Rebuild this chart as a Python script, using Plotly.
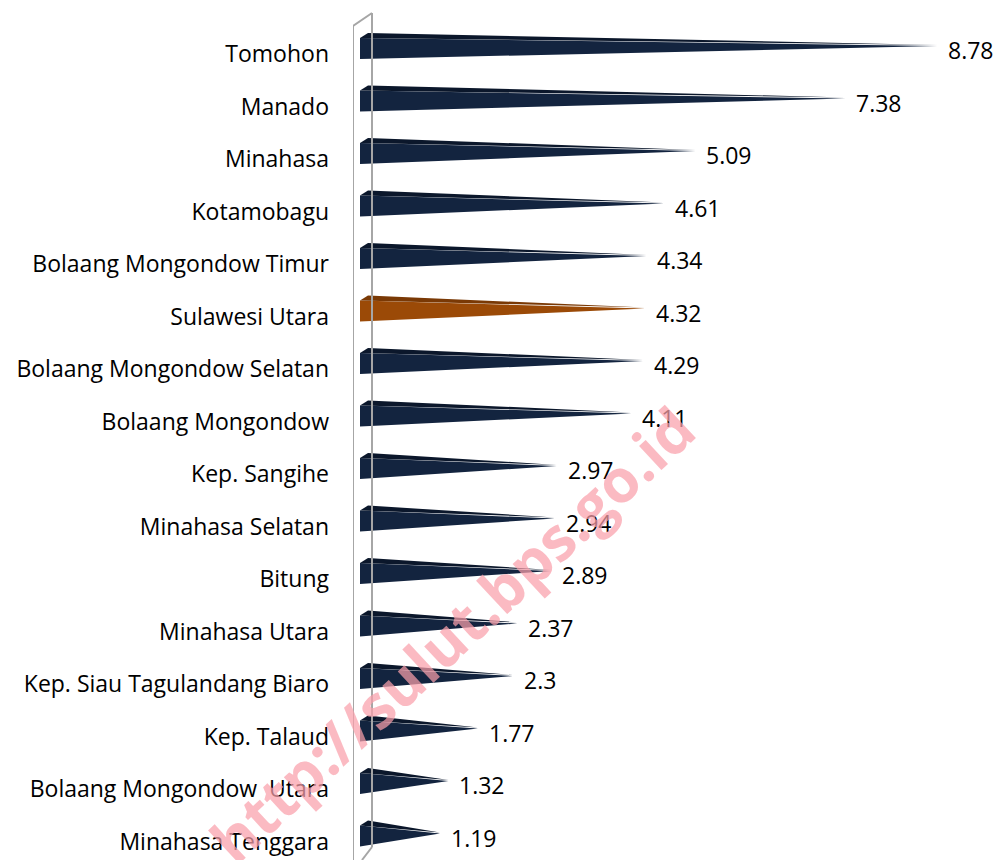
import plotly.graph_objects as go

categories = ["Tomohon", "Manado", "Minahasa", "Kotamobagu", "Bolaang Mongondow Timur",
              "Sulawesi Utara", "Bolaang Mongondow Selatan", "Bolaang Mongondow",
              "Kep. Sangihe", "Minahasa Selatan", "Bitung", "Minahasa Utara",
              "Kep. Siau Tagulandang Biaro", "Kep. Talaud", "Bolaang Mongondow  Utara",
              "Minahasa Tenggara"]
values = [8.78, 7.38, 5.09, 4.61, 4.34, 4.32, 4.29, 4.11, 2.97, 2.94, 2.89, 2.37, 2.3, 1.77, 1.32, 1.19]
labels = ["8.78", "7.38", "5.09", "4.61", "4.34", "4.32", "4.29", "4.11", "2.97", "2.94",
          "2.89", "2.37", "2.3", "1.77", "1.32", "1.19"]
highlight = "Sulawesi Utara"

W, H = 997, 860
X0PX, PXU = 362.0, 65.5          # pixel of value 0, pixels per unit
Y0PX, PXC = 46.0, 52.5           # pixel of first category centre, pixels per category
LEFT = 353
FONT = "Open Sans"

def xv(px):
    return (px - X0PX) / PXU

def yv(py):
    return (py - Y0PX) / PXC

fig = go.Figure()

for i, (c, v) in enumerate(zip(categories, values)):
    front = "#9b4a07" if c == highlight else "#13243f"
    top = "#7a3905" if c == highlight else "#0b172b"
    ft, fb, pk = i - 8 / PXC, i + 13 / PXC, i - 13 / PXC
    x_left = xv(360)
    fig.add_trace(go.Scatter(x=[x_left, x_left, v, x_left], y=[ft, fb, i, ft],
                             fill="toself", fillcolor=front, mode="lines",
                             line=dict(width=0, color=front), hoverinfo="skip", showlegend=False))
    fig.add_trace(go.Scatter(x=[x_left, xv(368), v, x_left], y=[ft, pk, i - 0.02, ft],
                             fill="toself", fillcolor=top, mode="lines",
                             line=dict(width=0, color=top), hoverinfo="skip", showlegend=False))
    fig.add_annotation(x=v, y=i, text=labels[i], showarrow=False, xanchor="left",
                       yanchor="middle", xshift=9, yshift=-4,
                       font=dict(family=FONT, size=23, color="#000000"))

gray = "#a6a6a6"
shapes = [
    dict(type="line", x0=xv(353), x1=xv(353), y0=yv(26), y1=yv(862), line=dict(color=gray, width=2)),
    dict(type="line", x0=xv(372), x1=xv(372), y0=yv(13), y1=yv(847), line=dict(color=gray, width=2)),
    dict(type="line", x0=xv(353), x1=xv(372), y0=yv(26), y1=yv(13), line=dict(color=gray, width=2)),
    dict(type="line", x0=xv(372), x1=xv(362), y0=yv(847), y1=yv(860), line=dict(color=gray, width=2)),
]
for k in range(len(categories)):
    ty = yv(26) + k * 1.0
    shapes.append(dict(type="line", x0=xv(346), x1=xv(353), y0=ty, y1=ty,
                       line=dict(color=gray, width=2)))

fig.add_annotation(x=xv(452), y=yv(634), text="<b>http://sulut.bps.go.id</b>", showarrow=False,
                   textangle=-43, xanchor="center", yanchor="middle",
                   font=dict(family=FONT, size=60, weight=800, color="rgba(250,160,170,0.72)"))

fig.update_layout(
    width=W, height=H, margin=dict(l=LEFT, r=0, t=0, b=0),
    paper_bgcolor="white", plot_bgcolor="white", shapes=shapes,
    xaxis=dict(range=[xv(LEFT), xv(W)], visible=False, fixedrange=True),
    yaxis=dict(range=[yv(H), yv(0)], tickvals=[i + 8 / PXC for i in range(len(categories))],
               ticktext=categories,
               showgrid=False, zeroline=False, showline=False, ticks="",
               ticklabelstandoff=23, tickfont=dict(family=FONT, size=23, color="#000000")),
)

fig.write_html("out.html")
